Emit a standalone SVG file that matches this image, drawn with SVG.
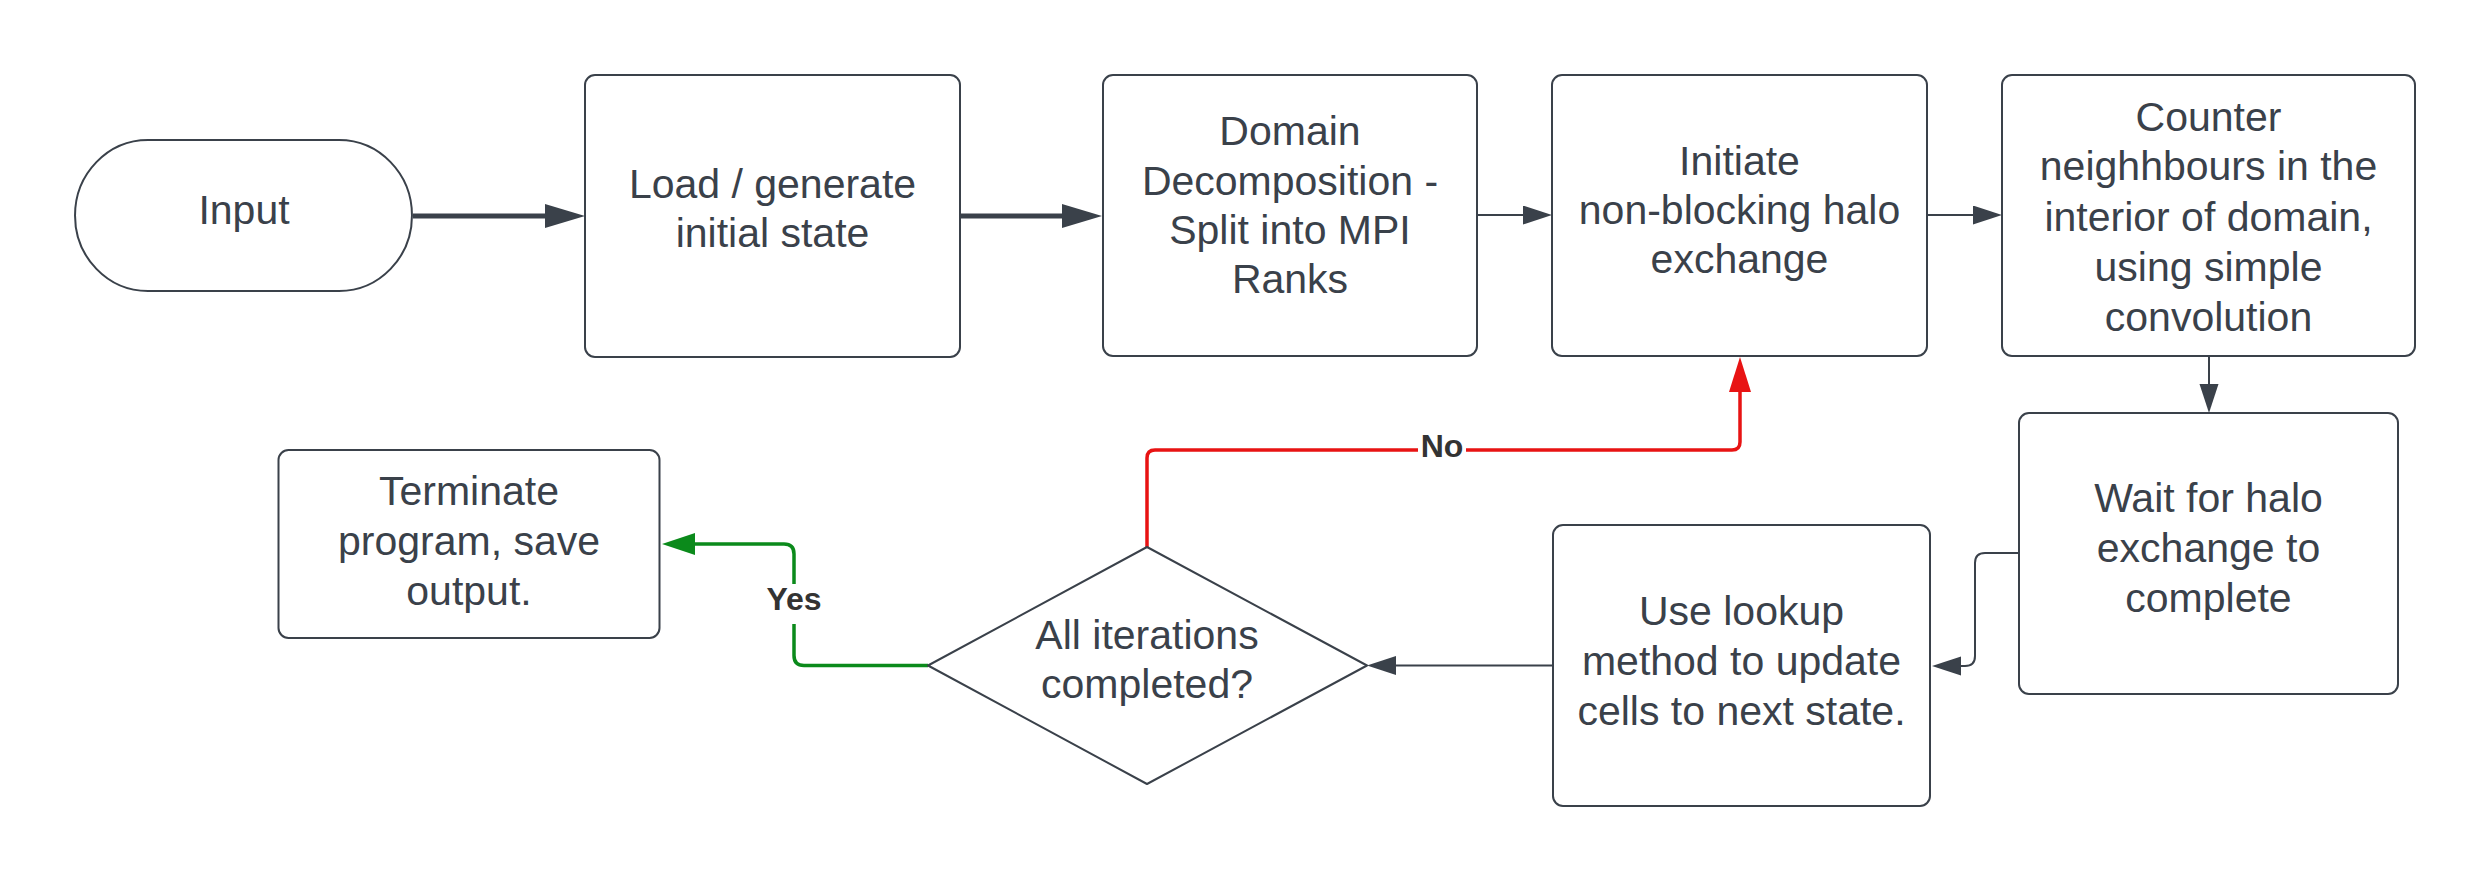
<svg xmlns="http://www.w3.org/2000/svg" width="2490" height="881" viewBox="0 0 2490 881">
  <style>
    .shape { fill: #ffffff; stroke: #3a414a; stroke-width: 2; stroke-linejoin: round; }
    .txt { font-family: "Liberation Sans", Arial, sans-serif; font-size: 41px; fill: #3a414a; text-anchor: middle; }
    .lbl { font-family: "Liberation Sans", Arial, sans-serif; font-size: 32px; font-weight: bold; fill: #333333; text-anchor: middle; }
    .thick { fill: none; stroke: #3a414a; stroke-width: 5; }
    .thin { fill: none; stroke: #3a414a; stroke-width: 2; }
    .red { fill: none; stroke: #e81313; stroke-width: 3.5; }
    .green { fill: none; stroke: #0b8a1b; stroke-width: 3.5; }
  </style>
  <defs>
    <marker id="headThick" markerUnits="userSpaceOnUse" markerWidth="41" markerHeight="25" refX="0" refY="12" orient="auto">
      <path d="M0,0 L40,12 L0,24 Z" fill="#3a414a"/>
    </marker>
    <marker id="headThin" markerUnits="userSpaceOnUse" markerWidth="30" markerHeight="20" refX="0" refY="9.5" orient="auto">
      <path d="M0,0 L29,9.5 L0,19 Z" fill="#3a414a"/>
    </marker>
    <marker id="headRed" markerUnits="userSpaceOnUse" markerWidth="36" markerHeight="23" refX="0" refY="11" orient="auto">
      <path d="M0,0 L35,11 L0,22 Z" fill="#e81313"/>
    </marker>
    <marker id="headGreen" markerUnits="userSpaceOnUse" markerWidth="34" markerHeight="23" refX="0" refY="11" orient="auto">
      <path d="M0,0 L33,11 L0,22 Z" fill="#0b8a1b"/>
    </marker>
  </defs>
  <rect x="0" y="0" width="2490" height="881" fill="#ffffff"/>

  <g id="connectors">
    <path class="thick" d="M413,216 H545" marker-end="url(#headThick)"/>
    <path class="thick" d="M960,216 H1062" marker-end="url(#headThick)"/>
    <path class="thin" d="M1477,215 H1523" marker-end="url(#headThin)"/>
    <path class="thin" d="M1927,215 H1973" marker-end="url(#headThin)"/>
    <path class="thin" d="M2209,356 V384" marker-end="url(#headThin)"/>
    <path class="thin" d="M2019,553 H1985 Q1975,553 1975,563 V656 Q1975,666 1965,666 H1961" marker-end="url(#headThin)"/>
    <path class="thin" d="M1553,665.5 H1396" marker-end="url(#headThin)"/>
    <path class="red" d="M1147,547 V458 Q1147,450 1155,450 H1732 Q1740,450 1740,442 V392" marker-end="url(#headRed)"/>
    <path class="green" d="M928,665.5 H804 Q794,665.5 794,655.5 V554 Q794,544 784,544 H695" marker-end="url(#headGreen)"/>
    <rect x="1418" y="432" width="48" height="34" fill="#ffffff"/>
    <text class="lbl" x="1442" y="457">No</text>
    <rect x="765" y="584" width="58" height="40" fill="#ffffff"/>
    <text class="lbl" x="794" y="610">Yes</text>
  </g>

  <g id="input">
    <path class="shape" d="M148,140 H339 A73,75.5 0 0 1 339,291 H148 A73,75.5 0 0 1 148,140 Z"/>
    <text class="txt" x="244" y="224">Input</text>
  </g>

  <g id="load">
    <rect class="shape" x="585" y="75" width="375" height="282" rx="10"/>
    <text class="txt" x="772.5" y="198">Load / generate</text>
    <text class="txt" x="772.5" y="247">initial state</text>
  </g>

  <g id="domain">
    <rect class="shape" x="1103" y="75" width="374" height="281" rx="10"/>
    <text class="txt" x="1290" y="145">Domain</text>
    <text class="txt" x="1290" y="195">Decomposition -</text>
    <text class="txt" x="1290" y="244">Split into MPI</text>
    <text class="txt" x="1290" y="293">Ranks</text>
  </g>

  <g id="initiate">
    <rect class="shape" x="1552" y="75" width="375" height="281" rx="10"/>
    <text class="txt" x="1739.5" y="175">Initiate</text>
    <text class="txt" x="1739.5" y="224">non-blocking halo</text>
    <text class="txt" x="1739.5" y="273">exchange</text>
  </g>

  <g id="counter">
    <rect class="shape" x="2002" y="75" width="413" height="281" rx="10"/>
    <text class="txt" x="2208.5" y="131">Counter</text>
    <text class="txt" x="2208.5" y="180">neighhbours in the</text>
    <text class="txt" x="2208.5" y="231">interior of domain,</text>
    <text class="txt" x="2208.5" y="281">using simple</text>
    <text class="txt" x="2208.5" y="331">convolution</text>
  </g>

  <g id="wait">
    <rect class="shape" x="2019" y="413" width="379" height="281" rx="10"/>
    <text class="txt" x="2208.5" y="512">Wait for halo</text>
    <text class="txt" x="2208.5" y="562">exchange to</text>
    <text class="txt" x="2208.5" y="612">complete</text>
  </g>

  <g id="update">
    <rect class="shape" x="1553" y="525" width="377" height="281" rx="10"/>
    <text class="txt" x="1741.5" y="625">Use lookup</text>
    <text class="txt" x="1741.5" y="675">method to update</text>
    <text class="txt" x="1741.5" y="725">cells to next state.</text>
  </g>

  <g id="decision">
    <path class="shape" d="M1147,547 L1367,665.5 L1147,784 L928,665.5 Z"/>
    <text class="txt" x="1147" y="649">All iterations</text>
    <text class="txt" x="1147" y="698">completed?</text>
  </g>

  <g id="terminate">
    <rect class="shape" x="278.5" y="450" width="381" height="188" rx="10"/>
    <text class="txt" x="469" y="505">Terminate</text>
    <text class="txt" x="469" y="555">program, save</text>
    <text class="txt" x="469" y="605">output.</text>
  </g>
</svg>
